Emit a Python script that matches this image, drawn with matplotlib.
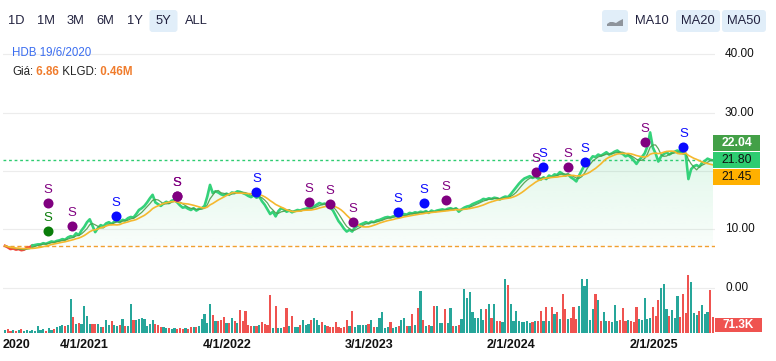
#!/usr/bin/env python3
"""HDB 5Y price chart with MA20/MA50, signal dots and volume bars."""
import matplotlib
matplotlib.use("Agg")
import matplotlib.pyplot as plt
import matplotlib.dates as mdates
import numpy as np
import pandas as pd
from matplotlib.colors import LinearSegmentedColormap
from matplotlib.patches import FancyBboxPatch, Polygon, Rectangle
from matplotlib.transforms import IdentityTransform

plt.rcParams["font.family"] = ["Liberation Sans", "DejaVu Sans"]

ticker = "HDB"
hover_date = "19/6/2020"
hover_price = "6.86"
hover_volume = "0.46M"
start_date = "2020-06-15"

# weekly closes
prices = [
    7.15, 6.9, 6.6, 6.7, 6.5, 6.6, 6.4, 6.5, 6.8, 6.9,
    7.2, 7.3, 7.4, 7.4, 7.6, 7.5, 7.7, 7.9, 7.8, 8.0,
    8.1, 8.3, 8.2, 8.6, 8.8, 8.7, 9.3, 9.0, 9.8, 10.4,
    11.2, 11.7, 10.6, 9.5, 10.2, 10.7, 10.5, 11.0, 11.2, 10.9,
    11.3, 11.5, 11.2, 11.6, 11.5, 11.9, 12.1, 12.0, 12.6, 13.3,
    13.6, 14.0, 14.6, 15.3, 15.9, 14.6, 14.3, 14.0, 14.4, 14.7,
    14.5, 14.9, 15.0, 14.6, 14.1, 13.7, 13.8, 13.5, 13.3, 13.6,
    13.2, 13.5, 13.6, 14.0, 15.6, 17.6, 16.2, 16.5, 16.3, 16.0,
    15.8, 16.1, 15.9, 16.3, 16.2, 16.5, 16.4, 16.2, 16.0, 15.7,
    15.5, 15.8, 15.4, 15.6, 14.8, 14.2, 13.4, 12.6, 13.0, 12.2,
    13.1, 13.6, 13.4, 13.0, 13.2, 12.9, 13.1, 13.3, 13.2, 13.4,
    13.5, 13.7, 13.6, 13.9, 14.2, 14.5, 14.3, 14.4, 14.1, 13.7,
    13.2, 12.3, 11.4, 10.8, 10.1, 9.6, 9.9, 9.6, 10.3, 10.6,
    10.8, 11.0, 11.2, 11.0, 11.3, 11.2, 11.5, 11.6, 11.8, 12.0,
    12.1, 12.0, 12.2, 12.3, 12.1, 12.4, 12.6, 12.5, 12.8, 12.7,
    12.9, 12.8, 13.0, 12.9, 13.1, 12.8, 13.2, 13.0, 13.2, 13.3,
    13.4, 13.3, 13.5, 13.6, 13.4, 13.6, 13.0, 13.4, 13.7, 13.9,
    14.0, 14.3, 14.5, 14.7, 14.9, 15.2, 15.1, 15.3, 15.2, 15.4,
    15.3, 15.1, 15.4, 15.6, 15.5, 16.0, 16.6, 17.2, 17.8, 18.3,
    18.7, 18.9, 19.1, 18.8, 19.0, 18.7, 18.5, 18.9, 18.6, 19.2,
    19.0, 19.4, 19.3, 19.8, 19.5, 19.2, 19.4, 18.9, 18.6, 18.2,
    19.2, 20.1, 21.0, 21.4, 21.9, 22.5, 22.4, 22.8, 22.6, 22.9,
    23.2, 22.8, 23.0, 23.3, 23.5, 23.1, 22.9, 22.5, 22.7, 22.3,
    21.8, 21.2, 21.9, 22.4, 23.0, 24.2, 26.6, 24.0, 23.0, 21.6,
    22.5, 22.9, 23.2, 22.8, 23.1, 23.3, 23.5, 23.3, 23.0, 22.9,
    18.6, 20.3, 20.8, 21.0, 20.7, 21.4, 21.7, 22.1, 21.9, 21.8,
]

# volume, thousand shares
volumes = [
    300, 400, 200, 300, 200, 300, 400, 200, 300, 200,
    300, 200, 700, 300, 400, 200, 500, 300, 400, 600,
    700, 800, 700, 800, 3400, 1600, 900, 1000, 900, 2700,
    1700, 900, 900, 900, 900, 600, 600, 1300, 800, 1200,
    800, 700, 800, 1400, 700, 700, 2900, 1300, 1300, 1400,
    1500, 1400, 700, 900, 1300, 900, 800, 600, 600, 500,
    500, 400, 500, 400, 500, 400, 500, 400, 600, 600,
    600, 700, 1400, 1900, 1000, 2900, 1800, 1200, 1200, 1300,
    1600, 1000, 1000, 1500, 1200, 1000, 2300, 1200, 2200, 800,
    700, 700, 700, 800, 1100, 900, 800, 3800, 500, 2700,
    500, 500, 600, 2500, 700, 1700, 600, 600, 800, 1300,
    800, 900, 1300, 1500, 1300, 800, 1100, 800, 700, 600,
    600, 1100, 600, 500, 600, 1300, 700, 2200, 600, 800,
    800, 800, 800, 900, 1300, 600, 600, 1500, 2100, 500,
    600, 1100, 500, 600, 700, 1300, 1500, 700, 700, 1900,
    800, 2500, 4200, 1300, 700, 800, 700, 2700, 2700, 1000,
    1000, 2400, 1000, 2500, 700, 700, 800, 1400, 4400, 3500,
    4100, 2100, 1500, 1500, 2400, 1300, 2400, 2900, 1500, 2900,
    1200, 1200, 1100, 5400, 4800, 2900, 1200, 2200, 1200, 1100,
    1100, 1200, 1000, 1100, 1200, 1200, 2200, 1200, 2600, 1200,
    2600, 1900, 2100, 1400, 3900, 2400, 1400, 1500, 2600, 1400,
    2700, 5400, 4700, 5400, 1300, 2400, 3900, 3300, 1200, 2100,
    1200, 1200, 1100, 2800, 1200, 1300, 2500, 1200, 1300, 1200,
    1100, 2600, 1400, 1300, 3500, 1400, 1500, 2600, 1700, 3300,
    4500, 4900, 2400, 1700, 2300, 1500, 3700, 1600, 3900, 2000,
    5800, 5100, 2000, 1800, 2200, 2800, 1900, 2100, 4300, 1600,
]

last_price = 21.80
ma20_last = 22.04
ma50_last = 21.45
last_volume = "71.3K"

# signal dots: week index from start, price level, kind
signal_week = [15.7, 15.7, 24.5, 40.5, 62.8, 62.8, 92.0, 111.3, 119.0, 127.4,
               143.8, 153.3, 161.3, 194.2, 196.7, 205.8, 212.0, 234.0, 248.2]
signal_price = [14.5, 9.7, 10.5, 12.3, 15.7, 15.7, 16.4, 14.7, 14.3, 11.2,
                12.9, 14.5, 15.0, 19.8, 20.7, 20.7, 21.5, 25.0, 24.1]
signal_kind = ["purple", "green", "purple", "blue", "purple", "purple", "blue",
               "purple", "purple", "purple", "blue", "blue", "purple", "purple",
               "blue", "purple", "blue", "purple", "blue"]

range_buttons = ["1D", "1M", "3M", "6M", "1Y", "5Y", "ALL"]
active_range = "5Y"
ma_buttons = ["MA10", "MA20", "MA50"]
active_ma = ["MA20", "MA50"]

year_ticks = ["2021-01-04", "2022-01-04", "2023-01-03", "2024-01-02", "2025-01-02"]
year_labels = ["4/1/2021", "4/1/2022", "3/1/2023", "2/1/2024", "2/1/2025"]
grid_levels = [40, 30, 20, 10, 0]
price_labels = [40, 30, 10, 0]  # 20.00 sits under the value tags

W, H = 776, 361
GREEN = "#34d27a"
RED = "#ef5350"
TEAL = "#26a69a"
ORANGE = "#f5b82e"
SIG_COLORS = {"purple": "#800080", "blue": "#0a0aff", "green": "#0a7d0a"}


def fy(py):
    return 1 - py / H


def box(fig, x0, y0, x1, y1, color, r=3):
    p = FancyBboxPatch((x0, H - y1), x1 - x0, y1 - y0,
                       boxstyle=f"round,pad=0,rounding_size={r}",
                       fc=color, ec="none", transform=IdentityTransform())
    fig.add_artist(p)


def main():
    dates = pd.date_range(start_date, periods=len(prices), freq="7D")
    xnum = mdates.date2num(dates)
    p = np.array(prices)
    base = prices[0]
    s = pd.Series(prices)
    ma20 = s.rolling(4, min_periods=1).mean()
    ma50 = s.rolling(10, min_periods=1).mean()

    fig = plt.figure(figsize=(W / 100, H / 100), dpi=100)
    ax = fig.add_axes([3 / W, fy(333), 712 / W, 293 / H])
    xlim = (xnum[0] - 5.1, xnum[-1] + 5.1)
    ylim = (-7.8, 42.45)
    for sp in ax.spines.values():
        sp.set_visible(False)
    ax.set_xticks([])
    ax.set_yticks([])

    for t in grid_levels:
        ax.axhline(t, color="#ececec", lw=0.8, zorder=0)

    # gradient fill under the price line
    cmap = LinearSegmentedColormap.from_list(
        "fade", [(0.2, 0.8, 0.45, 0.03), (0.2, 0.8, 0.45, 0.18)])
    grad = np.linspace(0, 1, 256).reshape(-1, 1)
    img = ax.imshow(grad, extent=[xnum[0], xnum[-1], base, max(prices)],
                    origin="lower", cmap=cmap, aspect="auto", zorder=1)
    poly = ax.fill_between(xnum, p, base, color="none", lw=0)
    img.set_clip_path(poly.get_paths()[0], transform=ax.transData)

    ax.axhline(base, color="#f0a030", lw=1, ls=(0, (3, 2)), zorder=2)
    ax.axhline(last_price, color="#2ecc71", lw=1, ls=(0, (2, 2)), zorder=2)

    k = int(np.argmax(p > base))
    ax.plot(xnum[:k + 1], p[:k + 1], color="#f04a3a", lw=1.9, zorder=3)
    ax.plot(xnum[k:], p[k:], color=GREEN, lw=1.9, zorder=3)
    ax.plot(xnum, ma20, color="#4b9e4b", lw=0.9, alpha=0.9, zorder=4)
    ax.plot(xnum, ma50, color=ORANGE, lw=1.2, zorder=4)

    sig_x = [xnum[0] + w * 7 for w in signal_week]
    for x, y, kind in zip(sig_x, signal_price, signal_kind):
        c = SIG_COLORS[kind]
        ax.scatter([x], [y], s=52, color=c, zorder=6, lw=0)
        ax.annotate("S", (x, y), xytext=(0, 9.5), textcoords="offset points",
                    ha="center", va="center", color=c, fontsize=9.5, zorder=6)

    ax.set_xlim(*xlim)
    ax.set_ylim(*ylim)

    # volume bars
    vax = ax.twinx()
    vax.set_ylim(0, 29300)
    vax.set_xlim(*xlim)
    for sp in vax.spines.values():
        sp.set_visible(False)
    vax.set_yticks([])
    vcols = [TEAL] + [TEAL if p[i] >= p[i - 1] else RED for i in range(1, len(p))]
    vax.bar(xnum, volumes, width=5.6, color=vcols, lw=0)

    # right axis labels
    ytr = ax.get_yaxis_transform()
    for t in price_labels:
        ax.text(1 + 10 / 712, t, f"{t:.2f}", transform=ytr, ha="left",
                va="center", fontsize=8.5, color="#111111")

    # date labels
    xtr = ax.get_xaxis_transform()
    ax.text(0, -0.041, "2020", transform=ax.transAxes, ha="left", va="center",
            fontsize=9, weight="bold", color="#111111")
    for d, lab in zip(year_ticks, year_labels):
        ax.text(mdates.date2num(pd.Timestamp(d)), -0.041, lab, transform=xtr,
                ha="center", va="center", fontsize=9, weight="bold", color="#111111")

    # last value tags
    yc = H - ax.transData.transform((xnum[-1], last_price))[1]
    tags = [(ma20_last, "#43a047", "white", "bold", -17),
            (last_price, "#2ecc71", "#111111", "normal", 0),
            (ma50_last, "#ffb000", "#111111", "normal", 17)]
    for val, bg, fg, wt, off in tags:
        cy = yc + off
        fig.add_artist(Rectangle((713, H - cy - 8), 47, 16, fc=bg, ec="none",
                                 transform=IdentityTransform()))
        fig.text(736.5 / W, fy(cy), f"{val:.2f}", ha="center", va="center",
                 fontsize=8.8, color=fg, weight=wt)
    fig.add_artist(Rectangle((715, H - 332), 47, 14, fc=RED, ec="none",
                             transform=IdentityTransform()))
    fig.text(738.5 / W, fy(325), last_volume, ha="center", va="center",
             fontsize=8.5, color="white", weight="bold")

    # range buttons
    btn_x = [16, 45.5, 75.5, 105.5, 135, 163.5, 196]
    for lab, cx in zip(range_buttons, btn_x):
        if lab == active_range:
            box(fig, cx - 14, 10, cx + 14, 32, "#e1eef9")
        fig.text(cx / W, fy(21), lab, ha="center", va="center", fontsize=9.3,
                 color="#22223f")

    box(fig, 602, 10, 628, 32, "#e1eef9")
    fig.add_artist(Polygon([(607, H - 26), (607, H - 24), (610, H - 22), (613, H - 22),
                            (616, H - 23), (619, H - 21), (623, H - 19), (623, H - 26)],
                           closed=True, fc="#8e949c", ec="none",
                           transform=IdentityTransform()))
    ma_x = [652, 698, 744]
    for lab, cx in zip(ma_buttons, ma_x):
        if lab in active_ma:
            box(fig, cx - 22, 10, cx + 22, 32, "#e1eef9")
        fig.text(cx / W, fy(21), lab, ha="center", va="center", fontsize=9.3,
                 color="#22223f")

    # hover info
    fig.text(12 / W, fy(53), f"{ticker} {hover_date}", ha="left", va="center",
             fontsize=8.3, color="#3a6df0")
    r = fig.canvas.get_renderer()
    x = 12
    parts = [("Giá:", "#222222", "normal"), (" " + hover_price, "#f07c2c", "bold"),
             (" KLGD:", "#222222", "normal"), (" " + hover_volume, "#f07c2c", "bold")]
    for txt, c, wt in parts:
        t = fig.text(x / W, fy(72), txt, ha="left", va="center", fontsize=8.3,
                     color=c, weight=wt)
        x += t.get_window_extent(r).width

    fig.savefig("out.png", dpi=100)


if __name__ == "__main__":
    main()
